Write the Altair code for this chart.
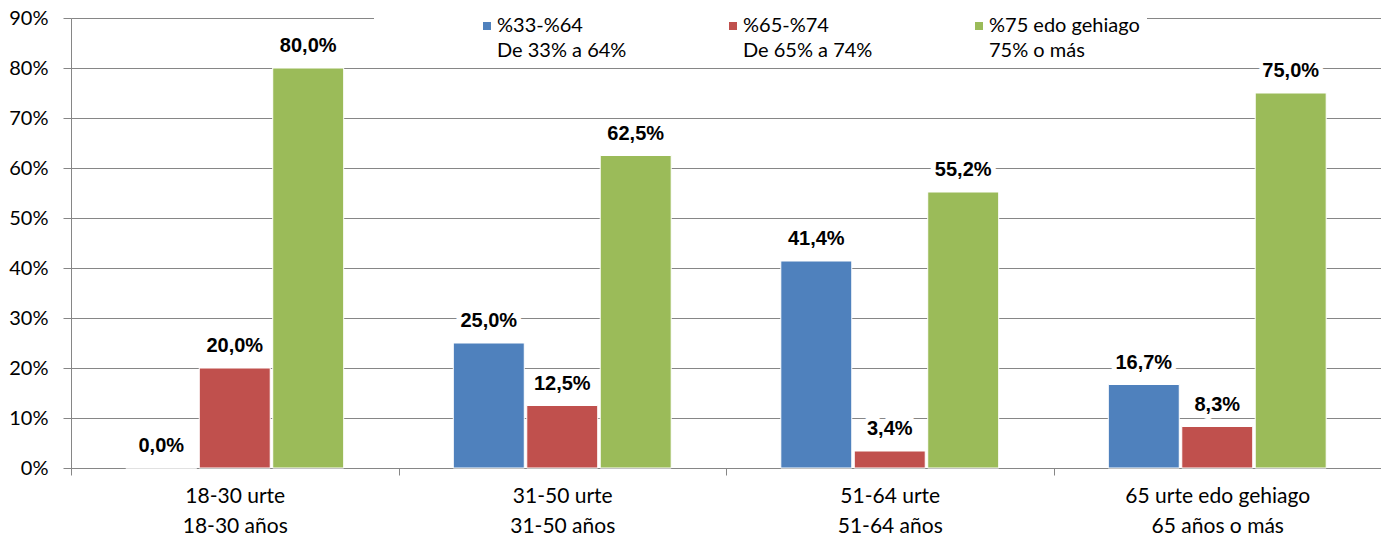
import altair as alt
import pandas as pd

groups_eu = ["18-30 urte", "31-50 urte", "51-64 urte", "65 urte edo gehiago"]
groups_es = ["18-30 años", "31-50 años", "51-64 años", "65 años o más"]
series_eu = ["%33-%64", "%65-%74", "%75 edo gehiago"]
series_es = ["De 33% a 64%", "De 65% a 74%", "75% o más"]
colors = ["#4F81BD", "#C0504D", "#9BBB59"]
v_33_64 = [0.0, 25.0, 41.4, 16.7]
v_65_74 = [20.0, 12.5, 3.4, 8.3]
v_75_plus = [80.0, 62.5, 55.2, 75.0]
y_ticks = [0, 10, 20, 30, 40, 50, 60, 70, 80, 90]

group_keys = [f"{a}|{b}" for a, b in zip(groups_eu, groups_es)]
series_keys = [f"{a}|{b}" for a, b in zip(series_eu, series_es)]
series_values = [v_33_64, v_65_74, v_75_plus]

rows = []
for s_key, vals in zip(series_keys, series_values):
    for g_key, v in zip(group_keys, vals):
        rows.append({"group": g_key, "series": s_key, "value": v / 100})
df = pd.DataFrame(rows)

GRAY = "#868686"
FONT = "Lato"

x_enc = alt.X(
    "group:N",
    sort=group_keys,
    scale=alt.Scale(paddingInner=0, paddingOuter=0),
    axis=alt.Axis(
        title=None,
        labelExpr="split(datum.label, '|')",
        tickBand="extent",
        labelAngle=0,
        labelFont=FONT,
        labelFontSize=21,
        labelColor="#000000",
        labelLineHeight=30,
        labelPadding=10,
        labelLimit=400,
        tickSize=7,
        tickColor=GRAY,
        domainColor=GRAY,
        grid=False,
    ),
)
xoff_enc = alt.XOffset(
    "series:N",
    sort=series_keys,
    scale=alt.Scale(paddingInner=0.034, paddingOuter=0.746),
)
y_enc = alt.Y(
    "value:Q",
    scale=alt.Scale(domain=[0, 0.9], nice=False),
    axis=alt.Axis(
        title=None,
        values=[t / 100 for t in y_ticks],
        format=".0%",
        labelFont=FONT,
        labelFontSize=20,
        labelColor="#000000",
        labelPadding=15,
        tickSize=8,
        tickColor=GRAY,
        domainColor=GRAY,
        gridColor=GRAY,
        gridOpacity=1,
    ),
)

base = alt.Chart(df).transform_calculate(
    label="replace(format(datum.value, '.1%'), '.', ',')"
)

bars = base.mark_bar(stroke="#ffffff", strokeWidth=1).encode(
    x=x_enc,
    xOffset=xoff_enc,
    y=y_enc,
    color=alt.Color(
        "series:N",
        sort=series_keys,
        scale=alt.Scale(domain=series_keys, range=colors),
        legend=alt.Legend(
            title=None,
            orient="none",
            legendX=303,
            legendY=-9,
            direction="horizontal",
            columns=3,
            fillColor="#ffffff",
            padding=7,
            symbolType="square",
            symbolSize=64,
            symbolStrokeWidth=0,
            symbolOffset=96,
            labelOffset=0,
            columnPadding=-8,
            labelFont=FONT,
            labelFontSize=20,
            labelLimit=400,
            labelColor="#000000",
            labelExpr="split(datum.label, '|')",
        ),
    ),
)

halo = base.mark_text(
    font="Liberation Sans",
    fontWeight="bold",
    fontSize=20,
    baseline="alphabetic",
    dy=-16,
    stroke="#ffffff",
    strokeWidth=10,
    strokeJoin="round",
    fill="#ffffff",
).encode(x=x_enc, xOffset=xoff_enc, y=y_enc, text="label:N")

labels = base.mark_text(
    font="Liberation Sans",
    fontWeight="bold",
    fontSize=20,
    baseline="alphabetic",
    dy=-16,
    color="#000000",
).encode(x=x_enc, xOffset=xoff_enc, y=y_enc, text="label:N")

chart = (
    alt.layer(bars, halo, labels)
    .properties(
        width=1310,
        height=450,
        padding={"left": 63, "top": 10, "right": 0, "bottom": 68},
        autosize="none",
        background="#ffffff",
    )
    .configure_view(stroke=None)
    .configure(style={"guide-label": {"lineHeight": 25}})
)

chart.save("out.html", embed_options={"renderer": "svg", "actions": False})
